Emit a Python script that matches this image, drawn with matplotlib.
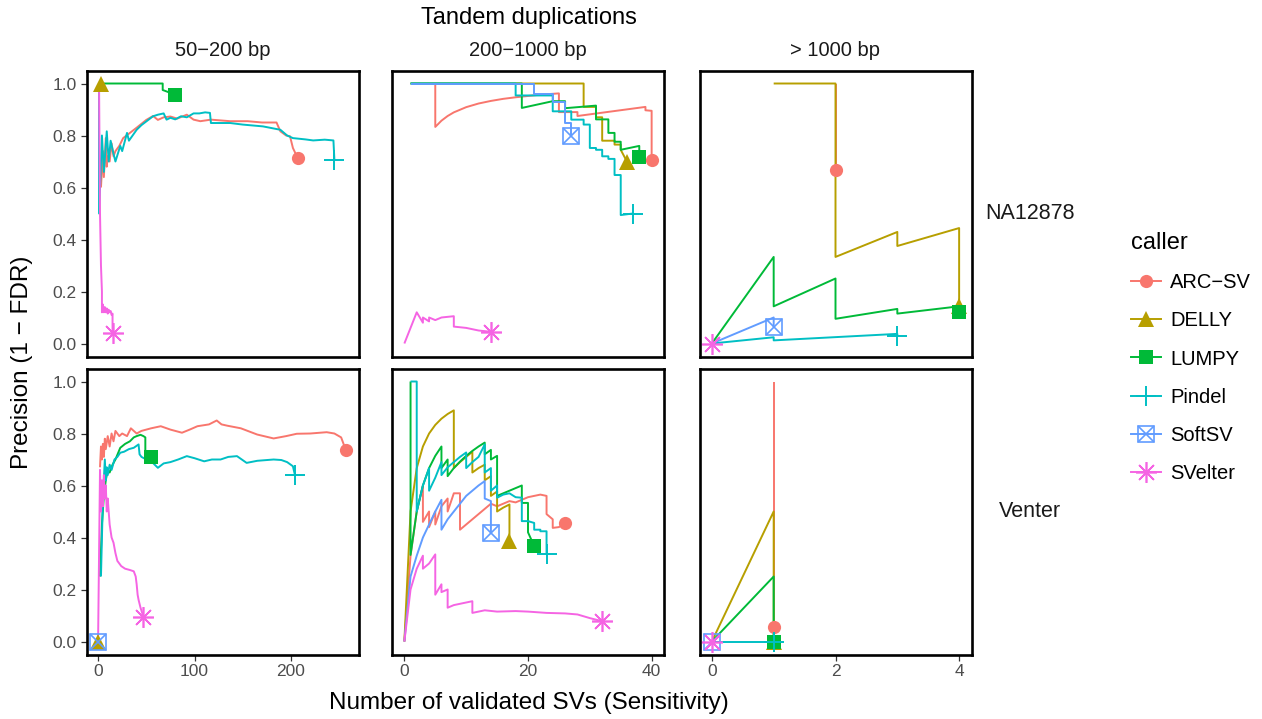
import matplotlib
matplotlib.use("Agg")
import matplotlib.pyplot as plt
from matplotlib.lines import Line2D
from matplotlib.legend_handler import HandlerTuple

plt.rcParams['font.family'] = ['Liberation Sans', 'DejaVu Sans']

# ---- categories -------------------------------------------------------------
callers = ["ARC−SV", "DELLY", "LUMPY", "Pindel", "SoftSV", "SVelter"]
caller_colors = ["#F8766D", "#B79F00", "#00BA38", "#00BFC4", "#619CFF", "#F564E3"]
size_bins = ["50−200 bp", "200−1000 bp", "> 1000 bp"]
samples = ["NA12878", "Venter"]
x_ticks = [[0, 100, 200], [0, 20, 40], [0, 2, 4]]
y_ticks = [0.0, 0.2, 0.4, 0.6, 0.8, 1.0]

# ---- NA12878, 50-200 bp ----------------------------------------------------
na_s_arcsv_x = [3, 5, 6, 8, 9, 10, 12, 14, 16, 18, 22, 26, 33, 40, 50, 57, 62, 68, 75, 82,
                92, 99, 106, 117, 137, 155, 170, 185, 189, 195, 199, 202, 207]
na_s_arcsv_y = [0.60, 0.74, 0.64, 0.79, 0.68, 0.72, 0.70, 0.77, 0.72, 0.74, 0.76, 0.79, 0.81,
                0.83, 0.86, 0.875, 0.86, 0.87, 0.873, 0.865, 0.88, 0.861, 0.855, 0.861, 0.855,
                0.855, 0.85, 0.85, 0.816, 0.80, 0.797, 0.752, 0.713]
na_s_delly_x = [1, 3]
na_s_delly_y = [1.0, 1.0]
na_s_lumpy_x = [1, 67, 67, 80]
na_s_lumpy_y = [1.0, 1.0, 0.975, 0.957]
na_s_pindel_x = [1, 1, 4, 6, 9, 11, 13, 16, 18, 23, 25, 30, 32, 40, 45, 57, 62, 68, 71, 75,
                 80, 86, 92, 99, 105, 111, 116, 117, 137, 150, 171, 189, 196, 202, 215, 223,
                 235, 244, 245]
na_s_pindel_y = [1.0, 0.50, 0.80, 0.66, 0.816, 0.70, 0.78, 0.73, 0.70, 0.76, 0.74, 0.81, 0.78,
                 0.822, 0.84, 0.874, 0.88, 0.885, 0.861, 0.868, 0.862, 0.874, 0.87, 0.885,
                 0.885, 0.889, 0.887, 0.848, 0.848, 0.842, 0.835, 0.822, 0.80, 0.79, 0.785,
                 0.781, 0.784, 0.781, 0.707]
na_s_softsv_x = []
na_s_softsv_y = []
na_s_svelter_x = [1, 2, 3, 4, 4, 5, 6, 7, 8, 9, 10, 11, 12, 13, 14, 15, 15]
na_s_svelter_y = [1.0, 0.5, 0.3, 0.2, 0.12, 0.15, 0.12, 0.14, 0.12, 0.135, 0.115, 0.13, 0.12,
                  0.125, 0.11, 0.115, 0.04]

# ---- NA12878, 200-1000 bp --------------------------------------------------
na_m_arcsv_x = [5, 5, 6, 7, 8, 10, 12, 14, 16, 18, 20, 22, 25, 25, 28, 28, 39, 39, 40, 40]
na_m_arcsv_y = [1.0, 0.833, 0.857, 0.875, 0.889, 0.909, 0.923, 0.933, 0.941, 0.947, 0.952,
                0.957, 0.962, 0.89, 0.89, 0.875, 0.91, 0.897, 0.895, 0.707]
na_m_delly_x = [1, 29, 29, 31, 31, 32, 32, 34, 34, 35, 35, 36]
na_m_delly_y = [1.0, 1.0, 0.91, 0.91, 0.87, 0.87, 0.78, 0.78, 0.765, 0.765, 0.745, 0.70]
na_m_lumpy_x = [1, 19, 19, 24, 26, 26, 31, 31, 33, 33, 34, 34, 35, 35, 38, 38]
na_m_lumpy_y = [1.0, 1.0, 0.906, 0.932, 0.932, 0.905, 0.915, 0.862, 0.862, 0.81, 0.81, 0.776,
                0.776, 0.745, 0.76, 0.717]
na_m_pindel_x = [1, 18, 18, 24, 24, 27, 27, 29, 29, 30, 30, 31, 31, 32, 32, 33, 33, 34, 34,
                 35, 35, 37]
na_m_pindel_y = [1.0, 1.0, 0.954, 0.954, 0.893, 0.893, 0.861, 0.861, 0.842, 0.842, 0.752,
                 0.752, 0.745, 0.745, 0.72, 0.72, 0.71, 0.71, 0.648, 0.648, 0.494, 0.50]
na_m_softsv_x = [1, 21, 21, 24, 24, 26, 26, 27, 27]
na_m_softsv_y = [1.0, 1.0, 0.96, 0.96, 0.93, 0.93, 0.85, 0.85, 0.80]
na_m_svelter_x = [0, 2, 3, 3, 4, 4, 5, 6, 8, 8, 10, 12, 14]
na_m_svelter_y = [0.0, 0.12, 0.08, 0.10, 0.085, 0.10, 0.09, 0.10, 0.105, 0.065, 0.06, 0.05, 0.045]

# ---- NA12878, > 1000 bp ----------------------------------------------------
na_l_arcsv_x = [2, 2]
na_l_arcsv_y = [1.0, 0.667]
na_l_delly_x = [1, 2, 2, 3, 3, 4, 4]
na_l_delly_y = [1.0, 1.0, 0.333, 0.429, 0.375, 0.444, 0.143]
na_l_lumpy_x = [0, 1, 1, 2, 2, 3, 3, 4, 4]
na_l_lumpy_y = [0.0, 0.333, 0.143, 0.25, 0.095, 0.133, 0.115, 0.143, 0.121]
na_l_pindel_x = [0, 1, 1, 3, 3]
na_l_pindel_y = [0.0, 0.024, 0.012, 0.037, 0.03]
na_l_softsv_x = [0, 1, 1]
na_l_softsv_y = [0.0, 0.10, 0.063]
na_l_svelter_x = [0]
na_l_svelter_y = [0.0]

# ---- Venter, 50-200 bp -----------------------------------------------------
ve_s_arcsv_x = [2, 3, 4, 5, 6, 7, 8, 10, 12, 14, 16, 18, 22, 25, 30, 34, 40, 45, 55, 65, 75,
                87, 95, 103, 115, 123, 128, 134, 148, 165, 182, 195, 206, 220, 237, 245, 252,
                254, 257]
ve_s_arcsv_y = [0.67, 0.75, 0.70, 0.76, 0.71, 0.78, 0.74, 0.79, 0.75, 0.80, 0.77, 0.81, 0.79,
                0.80, 0.79, 0.82, 0.80, 0.81, 0.82, 0.828, 0.815, 0.803, 0.815, 0.828, 0.835,
                0.85, 0.835, 0.83, 0.82, 0.796, 0.781, 0.79, 0.799, 0.80, 0.805, 0.80, 0.785,
                0.765, 0.735]
ve_s_delly_x = [0]
ve_s_delly_y = [0.0]
ve_s_lumpy_x = [2, 4, 6, 8, 10, 12, 15, 18, 23, 28, 33, 37, 40, 44, 47, 49, 49, 51, 55]
ve_s_lumpy_y = [0.25, 0.45, 0.56, 0.62, 0.66, 0.65, 0.68, 0.70, 0.745, 0.76, 0.77, 0.785, 0.79,
                0.795, 0.79, 0.785, 0.72, 0.72, 0.71]
ve_s_pindel_x = [3, 5, 7, 8, 9, 10, 12, 14, 17, 20, 23, 27, 32, 37, 42, 43, 45, 50, 56, 62, 68,
                 75, 83, 92, 100, 110, 118, 127, 135, 144, 154, 165, 182, 190, 196, 202, 204]
ve_s_pindel_y = [0.25, 0.55, 0.70, 0.62, 0.67, 0.64, 0.68, 0.66, 0.70, 0.71, 0.726, 0.73, 0.74,
                 0.745, 0.758, 0.72, 0.71, 0.70, 0.69, 0.668, 0.685, 0.69, 0.70, 0.713, 0.705,
                 0.693, 0.70, 0.70, 0.71, 0.713, 0.687, 0.695, 0.70, 0.698, 0.69, 0.674, 0.642]
ve_s_softsv_x = [0]
ve_s_softsv_y = [0.0]
ve_s_svelter_x = [0, 2, 3, 4, 5, 6, 7, 8, 9, 10, 12, 14, 16, 18, 20, 24, 28, 33, 37, 39, 40, 41,
                  42, 44, 47]
ve_s_svelter_y = [0.0, 0.66, 0.50, 0.62, 0.52, 0.64, 0.55, 0.60, 0.50, 0.55, 0.45, 0.40, 0.38,
                  0.34, 0.31, 0.29, 0.28, 0.275, 0.27, 0.25, 0.22, 0.18, 0.16, 0.13, 0.095]

# ---- Venter, 200-1000 bp ---------------------------------------------------
ve_m_arcsv_x = [0, 1, 2, 3, 3, 4, 4, 5, 5, 6, 7, 7, 8, 9, 9, 10, 11, 12, 13, 14, 15, 16, 17,
                18, 19, 20, 21, 22, 23, 23, 24, 24, 25, 26]
ve_m_arcsv_y = [0.0, 0.33, 0.50, 0.60, 0.46, 0.50, 0.44, 0.50, 0.45, 0.52, 0.55, 0.50, 0.57,
                0.57, 0.43, 0.45, 0.47, 0.49, 0.51, 0.53, 0.52, 0.53, 0.54, 0.535, 0.545, 0.555,
                0.56, 0.565, 0.56, 0.49, 0.47, 0.437, 0.44, 0.456]
ve_m_delly_x = [0, 1, 2, 3, 4, 5, 6, 7, 8, 8, 9, 10, 11, 11, 12, 13, 13, 14, 14, 15, 15, 16,
                17, 17]
ve_m_delly_y = [0.0, 0.50, 0.667, 0.75, 0.80, 0.833, 0.857, 0.875, 0.889, 0.667, 0.69, 0.71,
                0.73, 0.65, 0.667, 0.68, 0.62, 0.636, 0.56, 0.577, 0.50, 0.515, 0.527, 0.386]
ve_m_lumpy_x = [1, 1, 2, 3, 4, 5, 6, 6, 7, 7, 8, 9, 10, 11, 12, 13, 13, 14, 14, 15, 15, 16,
                17, 18, 19, 19, 20, 20, 21]
ve_m_lumpy_y = [1.0, 0.333, 0.50, 0.60, 0.667, 0.714, 0.75, 0.667, 0.70, 0.636, 0.667, 0.692,
                0.714, 0.733, 0.75, 0.765, 0.72, 0.737, 0.70, 0.714, 0.56, 0.57, 0.58, 0.59,
                0.60, 0.533, 0.533, 0.42, 0.367]
ve_m_pindel_x = [1, 2, 2, 3, 4, 4, 5, 6, 6, 7, 8, 9, 10, 10, 11, 12, 13, 13, 14, 14, 15, 15,
                 16, 17, 18, 19, 19, 20, 21, 21, 22, 22, 23, 23]
ve_m_pindel_y = [1.0, 1.0, 0.50, 0.60, 0.667, 0.58, 0.63, 0.69, 0.64, 0.67, 0.69, 0.71, 0.727,
                 0.667, 0.69, 0.71, 0.758, 0.65, 0.667, 0.58, 0.60, 0.553, 0.565, 0.57, 0.555,
                 0.553, 0.463, 0.463, 0.456, 0.43, 0.43, 0.424, 0.424, 0.338]
ve_m_softsv_x = [0, 1, 2, 3, 4, 5, 6, 6, 7, 8, 9, 10, 11, 12, 13, 13, 14, 14]
ve_m_softsv_y = [0.0, 0.25, 0.33, 0.40, 0.45, 0.50, 0.545, 0.43, 0.47, 0.50, 0.53, 0.56, 0.58,
                 0.60, 0.617, 0.55, 0.54, 0.418]
ve_m_svelter_x = [0, 1, 2, 3, 3, 4, 5, 5, 6, 6, 7, 7, 8, 9, 10, 11, 11, 13, 15, 18, 20, 23,
                  26, 28, 30, 32]
ve_m_svelter_y = [0.0, 0.20, 0.28, 0.33, 0.28, 0.30, 0.335, 0.18, 0.22, 0.19, 0.20, 0.13,
                  0.14, 0.145, 0.15, 0.155, 0.11, 0.12, 0.115, 0.117, 0.115, 0.11, 0.108,
                  0.104, 0.09, 0.078]

# ---- Venter, > 1000 bp -----------------------------------------------------
ve_l_arcsv_x = [1, 1]
ve_l_arcsv_y = [1.0, 0.055]
ve_l_delly_x = [0, 1, 1]
ve_l_delly_y = [0.0, 0.50, 0.0]
ve_l_lumpy_x = [0, 1, 1]
ve_l_lumpy_y = [0.0, 0.25, 0.0]
ve_l_pindel_x = [0, 1]
ve_l_pindel_y = [0.0, 0.0]
ve_l_softsv_x = [0]
ve_l_softsv_y = [0.0]
ve_l_svelter_x = [0]
ve_l_svelter_y = [0.0]

# panel table: (row, col) -> one (x, y) pair per caller, in caller order
panels = {
    (0, 0): [(na_s_arcsv_x, na_s_arcsv_y), (na_s_delly_x, na_s_delly_y),
             (na_s_lumpy_x, na_s_lumpy_y), (na_s_pindel_x, na_s_pindel_y),
             (na_s_softsv_x, na_s_softsv_y), (na_s_svelter_x, na_s_svelter_y)],
    (0, 1): [(na_m_arcsv_x, na_m_arcsv_y), (na_m_delly_x, na_m_delly_y),
             (na_m_lumpy_x, na_m_lumpy_y), (na_m_pindel_x, na_m_pindel_y),
             (na_m_softsv_x, na_m_softsv_y), (na_m_svelter_x, na_m_svelter_y)],
    (0, 2): [(na_l_arcsv_x, na_l_arcsv_y), (na_l_delly_x, na_l_delly_y),
             (na_l_lumpy_x, na_l_lumpy_y), (na_l_pindel_x, na_l_pindel_y),
             (na_l_softsv_x, na_l_softsv_y), (na_l_svelter_x, na_l_svelter_y)],
    (1, 0): [(ve_s_arcsv_x, ve_s_arcsv_y), (ve_s_delly_x, ve_s_delly_y),
             (ve_s_lumpy_x, ve_s_lumpy_y), (ve_s_pindel_x, ve_s_pindel_y),
             (ve_s_softsv_x, ve_s_softsv_y), (ve_s_svelter_x, ve_s_svelter_y)],
    (1, 1): [(ve_m_arcsv_x, ve_m_arcsv_y), (ve_m_delly_x, ve_m_delly_y),
             (ve_m_lumpy_x, ve_m_lumpy_y), (ve_m_pindel_x, ve_m_pindel_y),
             (ve_m_softsv_x, ve_m_softsv_y), (ve_m_svelter_x, ve_m_svelter_y)],
    (1, 2): [(ve_l_arcsv_x, ve_l_arcsv_y), (ve_l_delly_x, ve_l_delly_y),
             (ve_l_lumpy_x, ve_l_lumpy_y), (ve_l_pindel_x, ve_l_pindel_y),
             (ve_l_softsv_x, ve_l_softsv_y), (ve_l_svelter_x, ve_l_svelter_y)],
}

# ---- styling ---------------------------------------------------------------
W, H = 1262, 719
LW = 1.4
x_limits = [(-12, 270), (-2, 42), (-0.2, 4.2)]
col_left_px = [86.5, 392.0, 699.5]
panel_w_px = 272.0
row_top_px = [70.5, 368.5]
panel_h_px = 286.0
tick_color = "#4D4D4D"

# per-caller end-point marker(s): list of (marker, size, filled, edge width)
marker_specs = [
    [("o", 9.5, True, 0.0)],
    [("^", 12, True, 0.0)],
    [("s", 10, True, 0.0)],
    [("+", 15, False, 1.4)],
    [("s", 11, False, 1.2), ("x", 11, False, 1.2)],
    [((8, 2, 0), 15, False, 1.2)],
]


def draw_end_marker(ax, x, y, color, specs, z):
    for mk, ms, filled, mew in specs:
        if filled:
            ax.plot([x], [y], linestyle="none", marker=mk, ms=ms, color=color,
                    markeredgewidth=0, zorder=z)
        else:
            ax.plot([x], [y], linestyle="none", marker=mk, ms=ms, color=color,
                    markerfacecolor="none", markeredgecolor=color,
                    markeredgewidth=mew, zorder=z)


fig = plt.figure(figsize=(W / 100, H / 100), dpi=100)
fig.patch.set_facecolor("white")

for (r, c), series in panels.items():
    left = col_left_px[c] / W
    bottom = 1 - (row_top_px[r] + panel_h_px) / H
    ax = fig.add_axes([left, bottom, panel_w_px / W, panel_h_px / H])
    ax.set_xlim(*x_limits[c])
    ax.set_ylim(-0.05, 1.05)
    for s in ax.spines.values():
        s.set_linewidth(1.9)
        s.set_color("black")
    ax.set_xticks(x_ticks[c])
    ax.set_yticks(y_ticks)
    ax.tick_params(axis="both", direction="out", length=4.5, width=0.9,
                   color="#333333", labelcolor=tick_color, labelsize=12.5, pad=2.5)
    if r == 0:
        ax.tick_params(axis="x", bottom=False, labelbottom=False)
    else:
        ax.set_xticklabels([str(t) for t in x_ticks[c]])
    if c != 0:
        ax.tick_params(axis="y", left=False, labelleft=False)
    else:
        ax.set_yticklabels([f"{t:.1f}" for t in y_ticks])

    # lines first, in caller order, then all end-point markers on top
    for i, (xs, ys) in enumerate(series):
        if len(xs) > 1:
            ax.plot(xs, ys, color=caller_colors[i], lw=LW, solid_joinstyle="round",
                    solid_capstyle="butt", zorder=2 + i * 0.01)
    for i, (xs, ys) in enumerate(series):
        if len(xs) > 0:
            draw_end_marker(ax, xs[-1], ys[-1], caller_colors[i], marker_specs[i],
                            3 + i * 0.01)

# column strips and overall heading
for c, lab in enumerate(size_bins):
    cx = (col_left_px[c] + panel_w_px / 2) / W
    fig.text(cx, 1 - 51 / H, lab, ha="center", va="center", fontsize=14.5, color="#1A1A1A")
panels_cx = (col_left_px[0] + col_left_px[2] + panel_w_px) / 2 / W
fig.text(panels_cx, 1 - 18 / H, "Tandem duplications", ha="center", va="center",
         fontsize=17, color="black")

# row strips
for r, lab in enumerate(samples):
    cy = (row_top_px[r] + panel_h_px / 2) / H
    fig.text(1030 / W, 1 - cy, lab, ha="center", va="center", fontsize=15.5, color="#1A1A1A")

# axis titles
fig.text(panels_cx, 1 - 703 / H, "Number of validated SVs (Sensitivity)", ha="center",
         va="center", fontsize=17.5, color="black")
fig.text(22 / W, 1 - 362.5 / H, "Precision (1 − FDR)", ha="center", va="center",
         rotation=90, fontsize=17.5, color="black")

# legend
handles = []
for i, specs in enumerate(marker_specs):
    parts = []
    for j, (mk, ms, filled, mew) in enumerate(specs):
        ls = "-" if j == 0 else "none"
        if filled:
            parts.append(Line2D([], [], color=caller_colors[i], lw=LW, linestyle=ls,
                                marker=mk, ms=ms, markeredgewidth=0))
        else:
            parts.append(Line2D([], [], color=caller_colors[i], lw=LW, linestyle=ls,
                                marker=mk, ms=ms, markerfacecolor="none",
                                markeredgecolor=caller_colors[i], markeredgewidth=mew))
    handles.append(tuple(parts) if len(parts) > 1 else parts[0])

leg = fig.legend(handles, callers, title="caller", loc="upper left",
                 bbox_to_anchor=(1113 / W, 1 - 214 / H), frameon=False,
                 fontsize=14.5, title_fontsize=17, handlelength=1.5, handletextpad=0.45,
                 labelspacing=0.95, numpoints=1, alignment="left",
                 handler_map={tuple: HandlerTuple(ndivide=1, pad=0)})

fig.savefig("out.png", dpi=100, facecolor="white")
